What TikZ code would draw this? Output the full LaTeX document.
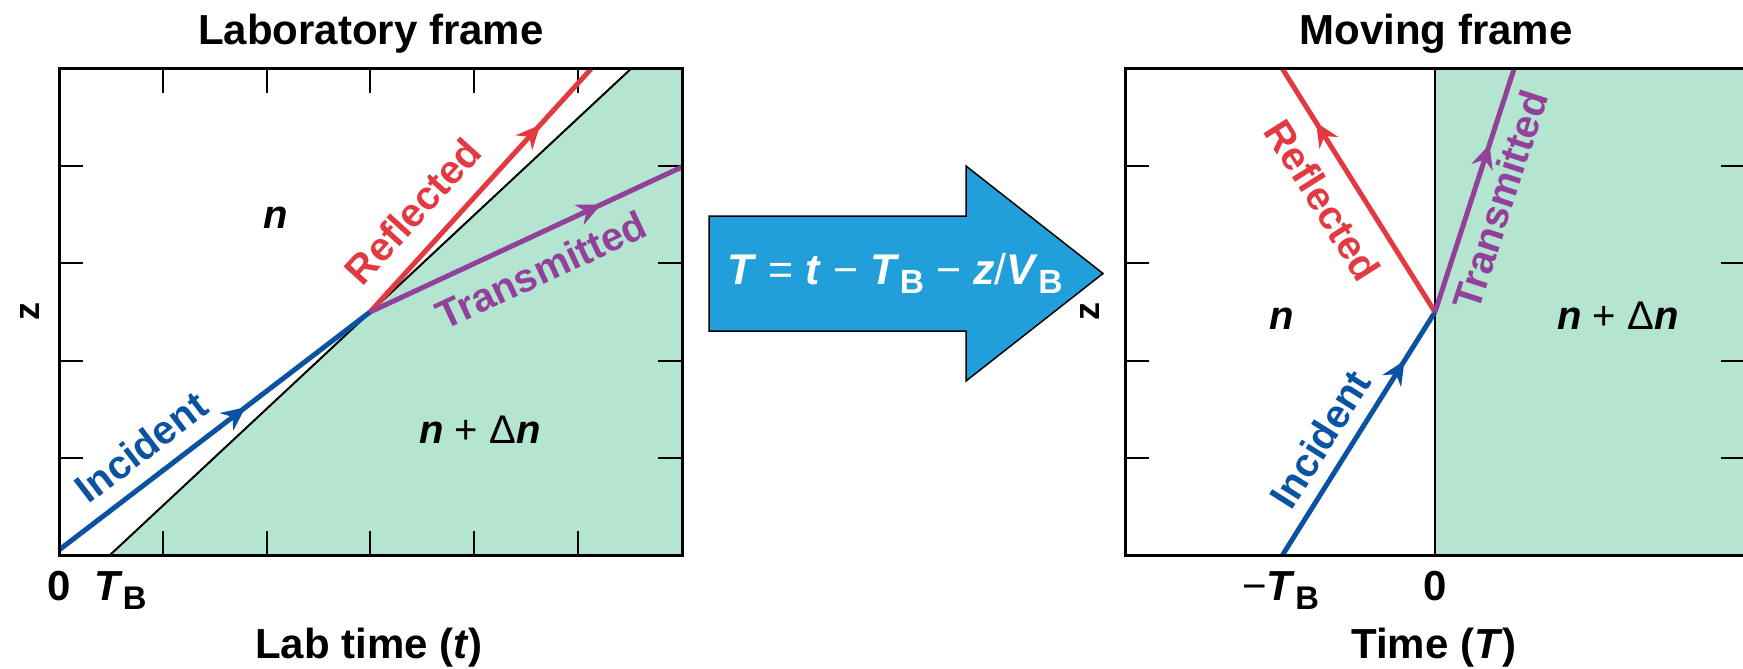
\documentclass[tikz,border=0pt]{standalone}
\usepackage{fontspec}
\usepackage{graphicx}
\setmainfont{Liberation Sans}
\usetikzlibrary{arrows.meta,decorations.markings}
\definecolor{incblue}{RGB}{10,82,162}
\definecolor{refred}{RGB}{226,58,64}
\definecolor{trpurple}{RGB}{146,64,154}
\definecolor{mint}{RGB}{179,229,209}
\definecolor{arrowblue}{RGB}{32,159,219}
\newcommand\myfs[1]{\fontsize{#1}{#1}\selectfont}
\newcommand\Bsub{\raisebox{-0.22em}{\scalebox{0.78}{\upshape\bfseries B}}}
\tikzset{
  tickmark/.style={line width=2pt},
  boxline/.style={line width=3pt},
  ray/.style={line width=5pt},
  arrowat/.style={postaction={decorate},decoration={markings,
     mark=at position #1 with {\arrow{Stealth[length=24pt,width=22pt,inset=8pt]}}}},
  lbl/.style={font=\myfs{40}\bfseries, inner sep=0pt},
  ttl/.style={font=\myfs{42}\bfseries, inner sep=0pt, anchor=base},
  zlbl/.style={font=\myfs{36}\bfseries, inner sep=0pt, rotate=90},
}
\begin{document}
\begin{tikzpicture}[x=1pt,y=-1pt]
\useasboundingbox (0,0) rectangle (1743,669);
\clip (0,0) rectangle (1743,669);

% ---------------- left panel ----------------
\coordinate (LB0) at (110,555);
\coordinate (LB1) at (630.7,69);
\coordinate (Li) at (59,550);
\coordinate (Lj) at (370,312);
\coordinate (Lr) at (591,69);
\coordinate (Lt) at (682,167);
\fill[mint] (LB0) -- (LB1) -- (682,69) -- (682,555) -- cycle;
\foreach \x in {162.8,266.6,370.4,474.2,578}{
  \draw[tickmark] (\x,69) -- ++(0,24);
  \draw[tickmark] (\x,555) -- ++(0,-24);}
\foreach \y in {166.2,263.4,360.6,457.8}{
  \draw[tickmark] (59,\y) -- ++(24,0);
  \draw[tickmark] (682,\y) -- ++(-24,0);}
\draw[line width=2pt] (LB0) -- (LB1);
\draw[ray,incblue,arrowat=0.6] (Li) -- (Lj);
\draw[ray,refred,arrowat=0.77] (Lj) -- (Lr);
\draw[ray,trpurple,arrowat=0.74] (Lj) -- (Lt);
\draw[boxline] (59,69) rectangle (682,555);

\node[ttl] (ltitle) at (371,45) {Laboratory frame};
\node[lbl,anchor=base] (ln) at (276,228) {\itshape n};
\node[lbl,anchor=base] (lnd) at (480,443) {\textit{n} \textmd{+ Δ}\textit{n}};
\node[lbl,refred,rotate=47.7] (lref) at (413,211) {Reflected};
\node[lbl,trpurple,rotate=25] (ltr) at (541,270) {Transmitted};
\node[lbl,incblue,rotate=37.4] (linc) at (141,447) {Incident};
\node[zlbl] (lz) at (30,311) {z};
\node[ttl] (l0) at (59,600) {0};
\node[ttl,anchor=base west] (ltb) at (94,600) {\textit{T}\Bsub};
\node[ttl] (lxl) at (369,658) {Lab time (\textit{t})};

% ---------------- big arrow ----------------
\draw[fill=arrowblue, line width=1.5pt, line join=miter]
  (709,216) -- (966,216) -- (966,166) -- (1103,273.5) -- (966,381) -- (966,331) -- (709,331) -- cycle;
\node[font=\myfs{43}\bfseries, text=white, inner sep=0pt, anchor=base] (formula) at (895,284)
  {\textit{T} \textmd{=} \textit{t} \textmd{−} \textit{T}\Bsub\ \textmd{−} \textit{z}\textmd{/}\textit{V}\Bsub};

% ---------------- right panel ----------------
\coordinate (Ri) at (1282.5,555);
\coordinate (Rj) at (1435,312);
\coordinate (Rr) at (1282.5,69);
\coordinate (Rt) at (1514,69);
\fill[mint] (1435,69) rectangle (1747,555);
\foreach \y in {166.2,263.4,360.6,457.8}{
  \draw[tickmark] (1125,\y) -- ++(24,0);
  \draw[tickmark] (1747,\y) -- ++(-26,0);}
\draw[line width=2pt] (1435,69) -- (1435,555);
\draw[ray,incblue,arrowat=0.8] (Ri) -- (Rj);
\draw[ray,refred,arrowat=0.78] (Rj) -- (Rr);
\draw[ray,trpurple,arrowat=0.69] (Rj) -- (Rt);
\draw[boxline] (1125,69) rectangle (1747,555);

\node[ttl] (rtitle) at (1436,45) {Moving frame};
\node[lbl,anchor=base] (rn) at (1282,329) {\itshape n};
\node[lbl,anchor=base] (rnd) at (1618,329) {\textit{n} \textmd{+ Δ}\textit{n}};
\node[lbl,refred,rotate=-57.8] (rref) at (1323,200) {Reflected};
\node[lbl,trpurple,rotate=72] (rtr) at (1500,200) {Transmitted};
\node[lbl,incblue,rotate=57.8] (rinc) at (1320,439) {Incident};
\node[zlbl] (rz) at (1090,311) {z};
\node[ttl,anchor=base west] (rtb) at (1242,600) {\textmd{−}\textit{T}\Bsub};
\node[ttl] (r0) at (1435,600) {0};
\node[ttl] (rxl) at (1434,658) {Time (\textit{T})};
\end{tikzpicture}
\end{document}
